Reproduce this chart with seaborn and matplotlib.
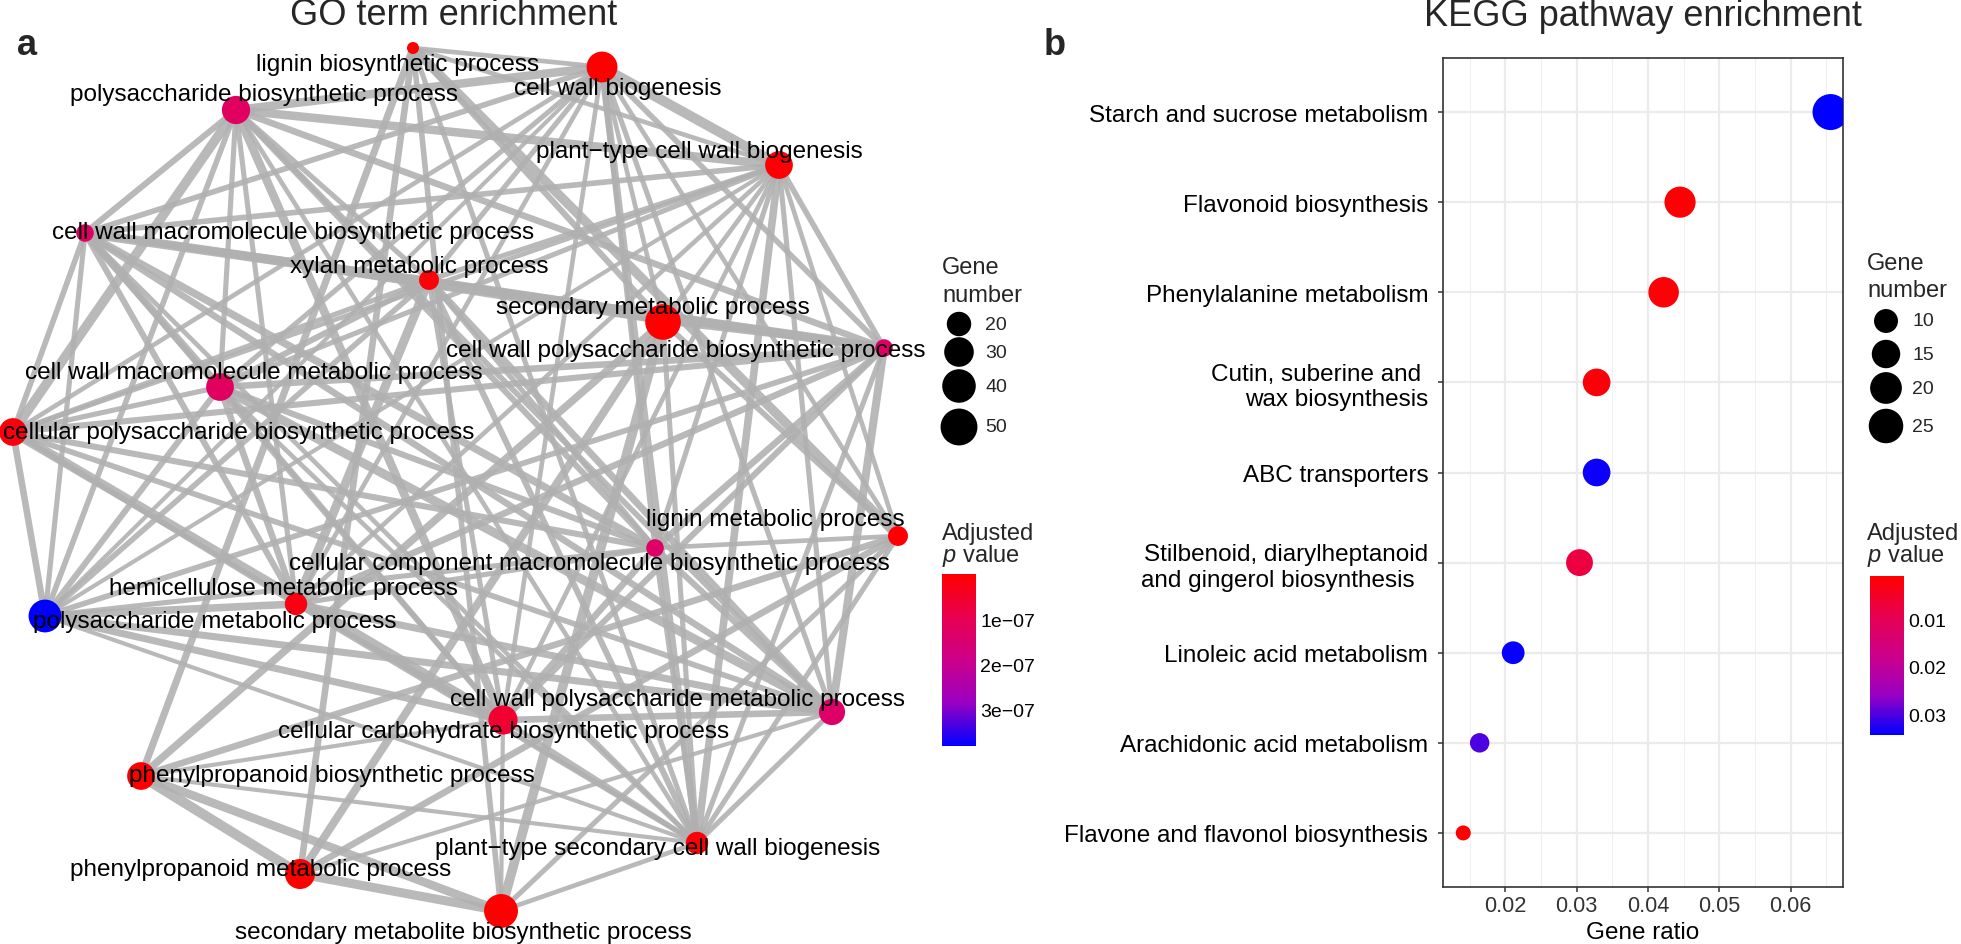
import numpy as np
import pandas as pd
import seaborn as sns
import matplotlib.pyplot as plt
from matplotlib.colors import LinearSegmentedColormap, Normalize
from matplotlib.cm import ScalarMappable
from matplotlib.collections import LineCollection
from matplotlib.ticker import FixedLocator

sns.set_theme(style='white')
plt.rcParams['font.family'] = ['Liberation Sans', 'DejaVu Sans']
plt.rcParams['mathtext.fontset'] = 'custom'
plt.rcParams['mathtext.it'] = 'Liberation Sans:italic'
plt.rcParams['mathtext.rm'] = 'Liberation Sans'

W, H = 1961, 945
MINUS = '\u2212'

# ---------------- data: GO term network (panel a) ----------------
go_terms = ['lignin biosynthetic process', 'cell wall biogenesis',
            'polysaccharide biosynthetic process', 'plant' + MINUS + 'type cell wall biogenesis',
            'cell wall macromolecule biosynthetic process', 'xylan metabolic process',
            'secondary metabolic process', 'cell wall polysaccharide biosynthetic process',
            'cell wall macromolecule metabolic process', 'cellular polysaccharide biosynthetic process',
            'lignin metabolic process', 'cellular component macromolecule biosynthetic process',
            'hemicellulose metabolic process', 'polysaccharide metabolic process',
            'cell wall polysaccharide metabolic process', 'cellular carbohydrate biosynthetic process',
            'phenylpropanoid biosynthetic process', 'plant' + MINUS + 'type secondary cell wall biogenesis',
            'phenylpropanoid metabolic process', 'secondary metabolite biosynthetic process']
# graph layout coordinates
go_x = [413, 602, 236, 779, 85, 429, 663, 884, 220, 13, 898, 655, 296, 45, 832, 503, 141, 697, 300, 501]
go_y = [49, 68, 111, 166, 234, 281, 323, 349, 388, 433, 537, 549, 605, 617, 713, 721, 777, 844, 875, 912]
go_count = [10, 33, 27, 26, 12, 14, 46, 12, 26, 26, 14, 12, 17, 38, 23, 29, 26, 17, 31, 41]
go_padj = [0.02e-7, 0.01e-7, 1.2e-7, 0.05e-7, 1.25e-7, 0.1e-7, 0.01e-7, 1.3e-7, 1.2e-7, 0.15e-7,
           0.05e-7, 1.3e-7, 0.2e-7, 3.82e-7, 1.35e-7, 0.6e-7, 0.02e-7, 0.1e-7, 0.01e-7, 0.01e-7]
# repelled label positions
go_label_x = [398, 618, 264, 699, 293, 419, 653, 686, 254, 239, 775, 589, 283, 215, 678, 504, 332, 658, 261, 463]
go_label_y = [65, 89, 95, 152, 233, 267, 308, 351, 373, 433, 520, 564, 589, 622, 700, 732, 776, 849, 870, 933]

# edges: (term, term, similarity)
go_edges = [
    (0, 6, .45), (0, 10, .8), (0, 16, .55), (0, 18, .5), (0, 19, .4), (6, 10, .4), (6, 16, .6),
    (6, 18, .65), (6, 19, .8), (10, 16, .5), (10, 18, .5), (10, 19, .35), (16, 18, .85), (16, 19, .7),
    (18, 19, .75),
    (1, 2, .7), (1, 3, .85), (1, 4, .4), (1, 5, .35), (1, 7, .4), (1, 8, .35), (1, 9, .3), (1, 11, .35),
    (1, 12, .3), (1, 13, .25), (1, 14, .35), (1, 15, .3), (1, 17, .55),
    (2, 3, .7), (2, 4, .45), (2, 5, .35), (2, 7, .5), (2, 8, .35), (2, 9, .8), (2, 11, .45), (2, 12, .35),
    (2, 13, .4), (2, 14, .4), (2, 15, .7), (2, 17, .3),
    (3, 4, .4), (3, 5, .35), (3, 7, .4), (3, 8, .35), (3, 9, .3), (3, 11, .35), (3, 12, .3), (3, 13, .25),
    (3, 14, .35), (3, 15, .3), (3, 17, .6),
    (4, 5, .5), (4, 7, .8), (4, 8, .6), (4, 9, .4), (4, 11, .6), (4, 12, .45), (4, 13, .35), (4, 14, .5),
    (4, 15, .4), (4, 17, .3),
    (5, 7, .5), (5, 8, .45), (5, 9, .35), (5, 11, .35), (5, 12, .75), (5, 13, .4), (5, 14, .55),
    (5, 15, .35), (5, 17, .45),
    (7, 8, .5), (7, 9, .45), (7, 11, .5), (7, 12, .5), (7, 13, .4), (7, 14, .65), (7, 15, .45), (7, 17, .35),
    (8, 9, .35), (8, 11, .45), (8, 12, .5), (8, 13, .45), (8, 14, .75), (8, 15, .35), (8, 17, .3),
    (9, 11, .45), (9, 12, .35), (9, 13, .5), (9, 14, .4), (9, 15, .8), (9, 17, .25),
    (11, 12, .35), (11, 13, .35), (11, 14, .45), (11, 15, .5), (11, 17, .35),
    (12, 13, .6), (12, 14, .55), (12, 15, .3), (12, 17, .35),
    (13, 14, .55), (13, 15, .55), (13, 17, .25),
    (14, 15, .5), (14, 17, .35), (15, 17, .3),
    (0, 1, .3), (0, 3, .3), (0, 17, .35), (10, 17, .35), (10, 3, .3), (10, 1, .3), (6, 5, .3), (6, 1, .3),
    (6, 3, .3), (6, 17, .35), (19, 17, .3), (16, 17, .25), (6, 7, .3), (6, 4, .3), (19, 15, .25),
    (16, 15, .25), (18, 14, .25), (10, 11, .3),
]
go_size_breaks = [20, 30, 40, 50]
go_p_breaks = [1e-7, 2e-7, 3e-7]
go_p_labels = ['1e' + MINUS + '07', '2e' + MINUS + '07', '3e' + MINUS + '07']

# ---------------- data: KEGG dot plot (panel b) ----------------
kegg_terms = ['Starch and sucrose metabolism', 'Flavonoid biosynthesis', 'Phenylalanine metabolism',
              'Cutin, suberine and \nwax biosynthesis', 'ABC transporters',
              'Stilbenoid, diarylheptanoid\nand gingerol biosynthesis  ', 'Linoleic acid metabolism',
              'Arachidonic acid metabolism', 'Flavone and flavonol biosynthesis']
kegg_ratio = [0.0656, 0.0445, 0.0422, 0.0328, 0.0328, 0.0304, 0.0211, 0.0164, 0.0141]
kegg_count = [28, 19, 18, 14, 14, 13, 9, 7, 6]
kegg_padj = [0.0343, 0.0012, 0.0015, 0.0018, 0.0336, 0.0075, 0.0340, 0.0300, 0.00088]
kegg_size_breaks = [10, 15, 20, 25]
kegg_p_breaks = [0.01, 0.02, 0.03]

# ---------------- scales ----------------
# red -> blue gradient interpolated in Lab (as ggplot does)
cmap = LinearSegmentedColormap.from_list('rb', ['#FF0000', '#E80050', '#CC0089', '#9A00C3', '#0000FF'])


def go_area(c):
    d = 12 + 25.5 * np.sqrt(max(c - 10, 0) / 42)
    return (d * 0.72) ** 2


def kegg_area(c):
    d = 15 + 21 * np.sqrt(max(c - 6, 0) / 22)
    return (d * 0.72) ** 2


def px_axes(left, top, right, bottom):
    return fig.add_axes([left / W, 1 - bottom / H, (right - left) / W, (bottom - top) / H])


fig = plt.figure(figsize=(W / 100, H / 100), dpi=100)

# ---------------- panel a: network ----------------
ax = fig.add_axes([0, 0, 1, 1])
segs = [[(go_x[a], go_y[a]), (go_x[b], go_y[b])] for a, b, _ in go_edges]
widths = [3.0 + (w - 0.25) * 7 for _, _, w in go_edges]
ax.add_collection(LineCollection(segs, linewidths=widths, colors='#b0b0b0', alpha=0.88,
                                 capstyle='butt', zorder=1))

go_df = pd.DataFrame({'x': go_x, 'y': go_y, 'count': go_count, 'padj': go_padj})
sns.scatterplot(data=go_df, x='x', y='y', hue='padj', size='count', palette=cmap,
                hue_norm=(0, max(go_padj)), sizes={c: go_area(c) for c in set(go_count)},
                legend=False, linewidth=0, ax=ax, zorder=3)
for t, lx, ly in zip(go_terms, go_label_x, go_label_y):
    ax.text(lx, ly, t, ha='center', va='center', fontsize=17.5, color='black', zorder=4)
ax.set_xlim(0, W)
ax.set_ylim(H, 0)
ax.axis('off')

# ---------------- panel b: KEGG ----------------
kax = px_axes(1443, 59, 1843, 888)
kegg_df = pd.DataFrame({'ratio': kegg_ratio, 'pathway': kegg_terms, 'count': kegg_count, 'padj': kegg_padj})
sns.scatterplot(data=kegg_df, x='ratio', y='pathway', hue='padj', size='count', palette=cmap,
                hue_norm=(min(kegg_padj), max(kegg_padj)), sizes={c: kegg_area(c) for c in set(kegg_count)},
                legend=False, linewidth=0, ax=kax, zorder=3)
kax.set_xlim(0.01126, 0.06735)
kax.set_ylim(len(kegg_terms) - 0.4, -0.6)
kax.set_xticks([0.02, 0.03, 0.04, 0.05, 0.06])
kax.set_xticklabels(['0.02', '0.03', '0.04', '0.05', '0.06'])
kax.xaxis.set_minor_locator(FixedLocator([0.015, 0.025, 0.035, 0.045, 0.055, 0.065]))
kax.grid(True, which='major', color='#ebebeb', linewidth=1.6)
kax.grid(True, which='minor', axis='x', color='#f0f0f0', linewidth=0.8)
kax.set_axisbelow(True)
for sp in kax.spines.values():
    sp.set_color('#333333')
    sp.set_linewidth(1.2)
kax.tick_params(axis='both', which='major', bottom=True, left=True, length=3.6, width=1.1,
                color='#333333', direction='out')
kax.tick_params(axis='x', which='minor', length=0)
kax.tick_params(axis='y', labelsize=17.5, labelcolor='black', pad=7)
kax.tick_params(axis='x', labelsize=15.7, labelcolor='#333333', pad=2.5)
kax.set_xlabel('Gene ratio', fontsize=17.5, labelpad=3, color='black')
kax.set_ylabel('')

# ---------------- titles and panel letters ----------------
fig.text(454 / W, 1 - 25 / H, 'GO term enrichment', ha='center', va='baseline', fontsize=26)
fig.text(1643 / W, 1 - 26 / H, 'KEGG pathway enrichment', ha='center', va='baseline', fontsize=26)
fig.text(17 / W, 1 - 55 / H, 'a', ha='left', va='baseline', fontsize=26, fontweight='bold')
fig.text(1044 / W, 1 - 55 / H, 'b', ha='left', va='baseline', fontsize=26, fontweight='bold')

# ---------------- legends ----------------
lg = fig.add_axes([0, 0, 1, 1])
lg.set_xlim(0, W)
lg.set_ylim(H, 0)
lg.axis('off')

# GO gene number
lg.text(942, 274, 'Gene', va='baseline', fontsize=17)
lg.text(942, 302, 'number', va='baseline', fontsize=17)
go_key_y = [325, 353, 387, 428]
lg.scatter([959] * 4, go_key_y, s=[go_area(v) for v in go_size_breaks], color='black', linewidths=0)
for v, yy in zip(go_size_breaks, go_key_y):
    lg.text(985, yy, str(v), va='center', fontsize=14)

# KEGG gene number
lg.text(1867, 270, 'Gene', va='baseline', fontsize=17)
lg.text(1867, 297, 'number', va='baseline', fontsize=17)
kegg_key_y = [322, 355, 389, 427]
lg.scatter([1886] * 4, kegg_key_y, s=[kegg_area(v) for v in kegg_size_breaks], color='black', linewidths=0)
for v, yy in zip(kegg_size_breaks, kegg_key_y):
    lg.text(1912, yy, str(v), va='center', fontsize=14)

# colorbar titles
for x0 in (942, 1867):
    lg.text(x0, 540, 'Adjusted', va='baseline', fontsize=17)
    lg.text(x0, 562, r'$\it{p}$ value', va='baseline', fontsize=17)


def colorbar(left, top, right, bottom, vmin, vmax, ticks, labels):
    cax = px_axes(left, top, right, bottom)
    cb = fig.colorbar(ScalarMappable(norm=Normalize(vmin, vmax), cmap=cmap), cax=cax)
    cb.outline.set_visible(False)
    cax.invert_yaxis()
    cb.set_ticks(ticks)
    cb.set_ticklabels(labels)
    cax.yaxis.set_ticks_position('both')
    cax.tick_params(axis='y', which='major', direction='in', length=5, width=1.2, color='white',
                    labelcolor='black', labelsize=14, pad=3, left=True, right=True,
                    labelleft=False, labelright=True)
    cax.minorticks_off()


colorbar(942, 575, 976, 747, 0, max(go_padj), go_p_breaks, go_p_labels)
colorbar(1870, 577, 1904, 736, min(kegg_padj), max(kegg_padj), kegg_p_breaks,
         ['0.01', '0.02', '0.03'])

fig.savefig('out.png', dpi=100, facecolor='white')
